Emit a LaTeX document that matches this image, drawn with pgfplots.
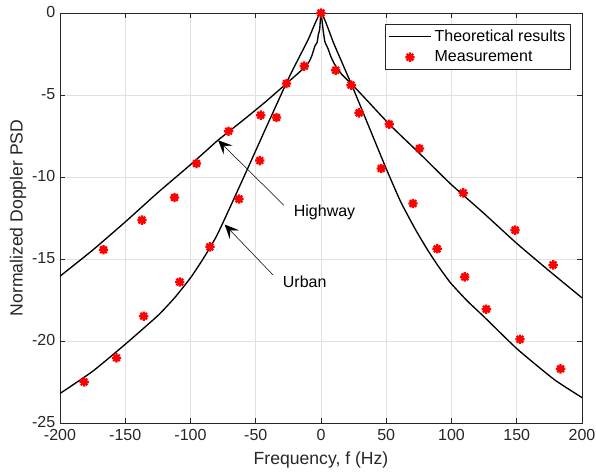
\documentclass[border=0pt]{standalone}
\usepackage{fontspec}
\setmainfont{Liberation Sans}
\usepackage{pgfplots}
\pgfplotsset{compat=1.18}
\usetikzlibrary{arrows.meta}

\definecolor{axgray}{RGB}{38,38,38}
\definecolor{gridgray}{RGB}{225,225,225}

% eight-armed star marker (plus and cross overlaid)
\pgfdeclareplotmark{mstar}{%
  \pgfpathmoveto{\pgfqpoint{-\pgfplotmarksize}{0pt}}%
  \pgfpathlineto{\pgfqpoint{\pgfplotmarksize}{0pt}}%
  \pgfpathmoveto{\pgfqpoint{0pt}{-\pgfplotmarksize}}%
  \pgfpathlineto{\pgfqpoint{0pt}{\pgfplotmarksize}}%
  \pgfpathmoveto{\pgfqpoint{-0.707\pgfplotmarksize}{-0.707\pgfplotmarksize}}%
  \pgfpathlineto{\pgfqpoint{0.707\pgfplotmarksize}{0.707\pgfplotmarksize}}%
  \pgfpathmoveto{\pgfqpoint{-0.707\pgfplotmarksize}{0.707\pgfplotmarksize}}%
  \pgfpathlineto{\pgfqpoint{0.707\pgfplotmarksize}{-0.707\pgfplotmarksize}}%
  \pgfusepathqstroke}

% long legend samples
\pgfplotsset{
  longline legend/.style={legend image code/.code={%
    \draw[##1] (0pt,0pt) -- (32pt,0pt);}},
  longmark legend/.style={legend image code/.code={%
    \draw[mark repeat=2, mark phase=2, ##1]
      plot coordinates {(0pt,0pt) (16pt,0pt) (32pt,0pt)};}},
}

% theoretical Doppler PSD, highway scenario
\pgfplotstableread{
f      psd
-200  -16.05
-175  -14.46
-150  -12.74
-125  -10.95
-100  -9.25
-88   -8.40
-79   -7.76
-67   -7.00
-56   -6.30
-43   -5.45
-30   -4.55
-20   -3.85
-12.3 -3.30
-9    -2.95
-7    -2.60
-4.6  -2.00
-3    -1.80
-2    -1.30
-1    -1.00
0      0.00
1.8   -1.15
3     -1.75
5.5   -2.20
7.5   -2.65
10.8  -3.18
16    -3.75
23.6  -4.35
32.6  -5.10
53    -6.84
76    -8.60
99    -10.40
125   -12.23
150   -14.05
176   -15.80
200   -17.37
}\highway

% theoretical Doppler PSD, urban scenario
\pgfplotstableread{
f      psd
-200  -23.20
-175  -21.85
-150  -20.20
-125  -18.45
-112  -17.35
-100  -16.15
-90   -14.95
-80   -13.60
-70   -11.90
-56   -9.45
-43   -7.15
-29   -4.70
-22.5 -3.60
-10   -1.65
0      0.00
10    -1.90
23.6  -4.40
35    -6.60
50    -9.50
61    -11.50
72    -13.15
81.3  -14.40
90    -15.45
99.2  -16.45
112   -17.55
125   -18.53
150.5 -20.50
178.7 -22.35
200   -23.45
}\urban

% measured Doppler PSD
\pgfplotstableread{
f      psd
-181.5 -22.50
-166.7 -14.44
-156.7 -21.03
-137.2 -12.63
-135.9 -18.49
-112.3 -11.25
-108.2 -16.40
-95.4  -9.18
-85.1  -14.26
-70.8  -7.21
-62.8  -11.34
-46.9  -9.00
-46.2  -6.23
-34.1  -6.37
-26.4  -4.30
-12.8  -3.24
0       0.00
11.3   -3.49
23.1   -4.40
29.2   -6.09
46.2   -9.48
52.3   -6.78
70.5   -11.62
75.4   -8.26
89.0   -14.38
109.0  -10.97
110.2  -16.09
126.7  -18.06
148.7  -13.24
152.5  -19.89
177.9  -15.36
183.6  -21.70
}\meas

\begin{document}
\begin{tikzpicture}
\begin{axis}[
  scale only axis,
  width=391.5pt, height=307.5pt,
  xmin=-200, xmax=200, ymin=-25, ymax=0,
  xtick={-200,-150,...,200},
  ytick={-25,-20,...,0},
  grid=major,
  major grid style={gridgray, line width=0.5pt},
  axis line style={axgray, line width=0.6pt},
  tick style={axgray, line width=0.6pt},
  tick align=inside,
  major tick length=4pt,
  ticklabel style={font=\fontsize{12}{14}\selectfont, text=axgray},
  xticklabel style={yshift=-1.5pt},
  yticklabel style={yshift=1pt},
  /pgf/number format/assume math mode=true,
  xlabel={Frequency, f (Hz)},
  ylabel={Normalized Doppler PSD},
  label style={font=\fontsize{13.2}{15}\selectfont, text=axgray},
  xlabel style={at={(axis description cs:0.5,-0.09)}, anchor=center},
  ylabel style={at={(axis description cs:-0.0805,0.5)}, anchor=center},
  legend style={at={(0.979,0.973)}, anchor=north east,
    draw=axgray, line width=0.5pt, fill=white,
    font=\fontsize{12}{14}\selectfont,
    inner xsep=2pt, inner ysep=2pt, row sep=1.5pt},
  legend cell align=left,
]
\addplot[black, line width=1pt, smooth, tension=0.3, longline legend]
  table[x=f, y=psd] {\highway};
\addplot[black, line width=1pt, smooth, tension=0.3, forget plot]
  table[x=f, y=psd] {\urban};
\addplot[only marks, red, mark=mstar, mark size=3.5pt,
  mark options={line width=1.7pt}, longmark legend]
  table[x=f, y=psd] {\meas};
\legend{Theoretical results, Measurement}

\draw[-{Stealth[length=10.5pt, width=9.5pt, inset=4.5pt]}, line width=0.4pt]
  (axis cs:-28.5,-11.72) -- (axis cs:-78.8,-7.76);
\node[anchor=west, font=\fontsize{12}{14}\selectfont] at (axis cs:-24.4,-12.13) {Highway};
\draw[-{Stealth[length=10.5pt, width=9.5pt, inset=4.5pt]}, line width=0.4pt]
  (axis cs:-36.7,-15.98) -- (axis cs:-73.8,-12.9);
\node[anchor=west, font=\fontsize{12}{14}\selectfont] at (axis cs:-32.8,-16.4) {Urban};
\end{axis}
\pgfresetboundingbox
\useasboundingbox (-45pt,-37.5pt) rectangle (402pt,317.25pt);
\end{tikzpicture}
\end{document}
